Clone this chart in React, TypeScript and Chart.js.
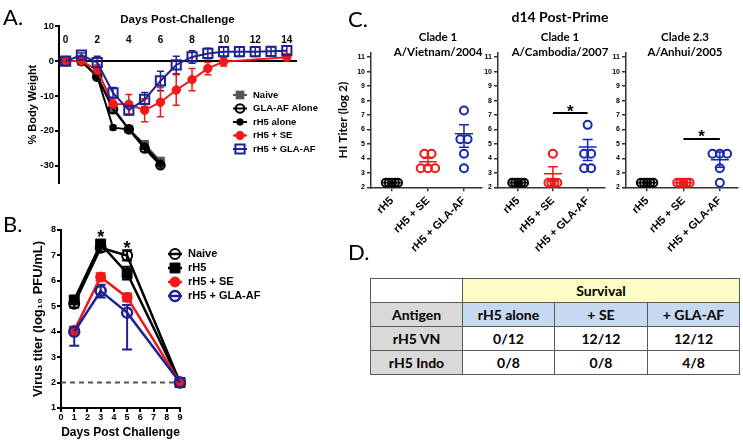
import React, { useEffect, useRef } from "react";
import { Chart, registerables } from "chart.js";
import { drawPoint } from "chart.js/helpers";

Chart.register(...registerables);

const ARIAL = "'Liberation Sans', Arial, sans-serif";
const CAL = "Lato, 'Open Sans', sans-serif";
const RED = "#f01818";
const NAVY = "#1f2290";
const BLUE = "#1428b4";
const GRAY = "#555555";
const CLEAR = "rgba(0,0,0,0)";

// ---------- Panel A: % body weight ----------
const daysA = [0, 1, 2, 3, 4, 5, 6, 7, 8, 9, 10, 11, 12, 13, 14];
const xTicksA = [0, 2, 4, 6, 8, 10, 12, 14];
const yTicksA = [-30, -20, -10, 0, 10];
const naiveA = [0, 0, -4.2, -13.3, -19.5, -23.9, -28.7, null, null, null, null, null, null, null, null];
const naiveErrA = [0.5, 0.5, 1, 1, 0.8, 1, 0.8, null, null, null, null, null, null, null, null];
const glaAloneA = [0, 0, -4.5, -13.8, -19.6, -25.1, -29.9, null, null, null, null, null, null, null, null];
const glaAloneErrA = [0.5, 0.5, 1, 1, 0.8, 1, 0.8, null, null, null, null, null, null, null, null];
const rh5AloneA = [0, 0, -4.4, -19.1, -19.6, -24.4, -29.3, null, null, null, null, null, null, null, null];
const rh5AloneErrA = [0.5, 0.5, 0.8, 0.6, 0.8, 1, 0.8, null, null, null, null, null, null, null, null];
const seA = [0, 0, -2.6, -12.3, -12.4, -14.1, -11.8, -8.3, -5.3, -2.1, -0.2, null, null, null, 1.1];
const seErrA = [0.5, 0.5, 1.5, 1.5, 2.8, 3.3, 4.2, 4.4, 3.2, 1.8, 1.2, null, null, null, 1.0];
const glaA = [0, 1.7, -0.4, -9.1, -14.1, -11.0, -5.7, -1.1, 1.2, 2.2, 2.7, 2.7, 2.7, 2.8, 3.0];
const glaErrA = [0.5, 0.6, 1.8, 1.5, 1.3, 2.0, 2.8, 2.5, 1.8, 1.5, 1.4, 1.4, 1.4, 1.3, 1.4];

// ---------- Panel B: virus titer ----------
const daysB = [1, 3, 5, 9];
const xTicksB = [0, 1, 2, 3, 4, 5, 6, 7, 8, 9];
const yTicksB = [1, 2, 3, 4, 5, 6, 7, 8];
const naiveB = [5.1, 7.3, 7.0, 2];
const naiveUpB = [0.1, 0.15, 0.2, 0];
const naiveDnB = [0.15, 0.15, 0.2, 0];
const rh5B = [5.25, 7.45, 6.3, 2];
const rh5UpB = [0.1, 0.1, 0.25, 0];
const rh5DnB = [0.1, 0.1, 0.25, 0];
const seB = [4.05, 6.15, 5.35, 2];
const seUpB = [0.1, 0.15, 0.15, 0];
const seDnB = [0.1, 0.15, 0.15, 0];
const glaB = [4.0, 5.6, 4.75, 2];
const glaUpB = [0.2, 0.25, 0.3, 0];
const glaDnB = [0.55, 0.25, 1.45, 0];
const limitB = 2;
const sigDaysB = [3, 5];
const sigYB = [7.85, 7.4];

// ---------- Panel C: HI titers ----------
const categoriesC = ["rH5", "rH5 + SE", "rH5 + GLA-AF"];
const yTicksC = [2, 3, 4, 5, 6, 7, 8, 9, 10, 11];
const strainsC = [
  ["Clade 1", "A/Vietnam/2004"],
  ["Clade 1", "A/Cambodia/2007"],
  ["Clade 2.3", "A/Anhui/2005"],
];
const vnRh5 = [2.32, 2.32, 2.32, 2.32, 2.32];
const vnSe = [4.32, 4.32, 3.32, 3.32, 3.32];
const vnGla = [7.32, 5.32, 5.32, 4.32, 3.32];
const cbRh5 = [2.32, 2.32, 2.32, 2.32, 2.32];
const cbSe = [4.32, 2.32, 2.32, 2.32, 2.32];
const cbGla = [6.32, 4.32, 4.32, 3.32, 3.32];
const ahRh5 = [2.32, 2.32, 2.32, 2.32, 2.32];
const ahSe = [2.32, 2.32, 2.32, 2.32, 2.32];
const ahGla = [4.32, 4.32, 4.32, 3.32, 2.32];
const meanC = [[2.32, 3.76, 5.7], [2.32, 2.93, 4.78], [2.32, 2.32, 3.9]];
const semUpC = [[0, 0.25, 0.63], [0, 0.5, 0.52], [0, 0, 0.54]];
const semDnC = [[0, 0.25, 0.93], [0, 0.5, 0.92], [0, 0, 0.51]];
const sigC = [null, { from: 1, to: 2, y: 7.14, star: 7.5 }, { from: 1, to: 2, y: 5.35, star: 5.72 }];

// ---------- Panel D: survival table ----------
const survivalGroups = ["rH5 alone", "+ SE", "+ GLA-AF"];
const antigensD = ["rH5 VN", "rH5 Indo"];
const survivalD = [
  ["0/12", "12/12", "12/12"],
  ["0/8", "0/8", "4/8"],
];

// ---------- plugins ----------
function errorBars(cap: number, lw: number) {
  return {
    id: "errorBars",
    beforeDatasetsDraw(chart: any) {
      const { ctx } = chart;
      const x = chart.scales.x, y = chart.scales.y;
      ctx.save();
      chart.data.datasets.forEach((ds: any) => {
        if (!ds.errUp) return;
        ctx.strokeStyle = ds.borderColor;
        ctx.lineWidth = lw;
        ds.data.forEach((p: any, i: number) => {
          const u = ds.errUp[i] || 0, d = ds.errDown[i] || 0;
          if (!u && !d) return;
          const px = x.getPixelForValue(p.x);
          const yt = y.getPixelForValue(p.y + u), yb = y.getPixelForValue(p.y - d);
          ctx.beginPath();
          ctx.moveTo(px, yt);
          ctx.lineTo(px, yb);
          if (u) { ctx.moveTo(px - cap, yt); ctx.lineTo(px + cap, yt); }
          if (d) { ctx.moveTo(px - cap, yb); ctx.lineTo(px + cap, yb); }
          ctx.stroke();
        });
      });
      ctx.restore();
    },
  };
}

type Item = { text: string; color: string; style: string; radius: number; fill: string; bw: number };

function legendPlugin(items: Item[], x: number, y0: number, dy: number, size: number, half: number, lw: number) {
  return {
    id: "customLegend",
    afterDraw(chart: any) {
      const ctx = chart.ctx;
      ctx.save();
      items.forEach((it, i) => {
        const y = y0 + i * dy;
        ctx.strokeStyle = it.color;
        ctx.lineWidth = lw;
        ctx.beginPath();
        ctx.moveTo(x - half, y);
        ctx.lineTo(x + half, y);
        ctx.stroke();
        ctx.fillStyle = it.fill;
        ctx.strokeStyle = it.color;
        ctx.lineWidth = it.bw;
        drawPoint(ctx, { pointStyle: it.style, radius: it.radius, borderWidth: it.bw, rotation: 0 } as any, x, y);
        ctx.fillStyle = "#000";
        ctx.font = `bold ${size}px ${ARIAL}`;
        ctx.textBaseline = "middle";
        ctx.textAlign = "left";
        ctx.fillText(it.text, x + half + 6, y);
      });
      ctx.restore();
    },
  };
}

function starsB() {
  return {
    id: "starsB",
    afterDatasetsDraw(chart: any) {
      const { ctx } = chart;
      ctx.save();
      ctx.fillStyle = "#000";
      ctx.font = `bold 18px ${ARIAL}`;
      ctx.textAlign = "center";
      ctx.textBaseline = "middle";
      sigDaysB.forEach((d, i) => {
        ctx.fillText("*", chart.scales.x.getPixelForValue(d), chart.scales.y.getPixelForValue(sigYB[i]) + 4);
      });
      ctx.restore();
    },
  };
}

function meanSemPlugin(k: number) {
  return {
    id: "meanSem",
    afterDatasetsDraw(chart: any) {
      const { ctx } = chart;
      const x = chart.scales.x, y = chart.scales.y;
      ctx.save();
      chart.data.datasets.forEach((ds: any, g: number) => {
        const cx = x.getPixelForValue(g);
        const m = y.getPixelForValue(meanC[k][g]);
        const t = y.getPixelForValue(meanC[k][g] + semUpC[k][g]);
        const b = y.getPixelForValue(meanC[k][g] - semDnC[k][g]);
        ctx.strokeStyle = ds.borderColor;
        ctx.lineWidth = 1.5;
        ctx.beginPath();
        ctx.moveTo(cx - 9, m); ctx.lineTo(cx + 9, m);
        if (semUpC[k][g] || semDnC[k][g]) {
          ctx.moveTo(cx, t); ctx.lineTo(cx, b);
          ctx.moveTo(cx - 5, t); ctx.lineTo(cx + 5, t);
          ctx.moveTo(cx - 5, b); ctx.lineTo(cx + 5, b);
        }
        ctx.stroke();
      });
      const s = sigC[k];
      if (s) {
        ctx.strokeStyle = "#000";
        ctx.lineWidth = 2;
        ctx.beginPath();
        ctx.moveTo(x.getPixelForValue(s.from), y.getPixelForValue(s.y));
        ctx.lineTo(x.getPixelForValue(s.to), y.getPixelForValue(s.y));
        ctx.stroke();
        ctx.fillStyle = "#000";
        ctx.font = `bold 17px ${ARIAL}`;
        ctx.textAlign = "center";
        ctx.textBaseline = "middle";
        ctx.fillText("*", x.getPixelForValue((s.from + s.to) / 2), y.getPixelForValue(s.star) + 4);
      }
      ctx.restore();
    },
  };
}

// ---------- helpers ----------
function pts(xs: number[], vals: (number | null)[], up: (number | null)[], dn: (number | null)[]) {
  const data: any[] = [], eu: number[] = [], ed: number[] = [];
  xs.forEach((d, i) => {
    const v = vals[i];
    if (v == null) return;
    data.push({ x: d, y: v });
    eu.push(up[i] || 0);
    ed.push(dn[i] || 0);
  });
  return { data, errUp: eu, errDown: ed };
}

function swarm(vals: number[]) {
  const counts = new Map<number, number>();
  const seen = new Map<number, number>();
  vals.forEach((v) => counts.set(v, (counts.get(v) || 0) + 1));
  return vals.map((v) => {
    const n = counts.get(v) as number;
    const k = seen.get(v) || 0;
    seen.set(v, k + 1);
    const sp = n >= 4 ? 0.085 : 0.2;
    return (k - (n - 1) / 2) * sp;
  });
}

const fixedTicks = (list: number[]) => (s: any) => {
  s.ticks = list.map((v) => ({ value: v }));
};

// ---------- configs ----------
function configA(): any {
  const series = (label: string, vals: any[], errs: any[], color: string, style: string, r: number, fill: string, bw: number) => ({
    label,
    ...pts(daysA, vals, errs, errs),
    borderColor: color,
    backgroundColor: fill,
    pointBackgroundColor: fill,
    pointBorderColor: color,
    pointStyle: style,
    pointRadius: r,
    pointBorderWidth: bw,
    borderWidth: 2,
    clip: false,
  });
  return {
    type: "line",
    data: {
      datasets: [
        series("rH5 + GLA-AF", glaA, glaErrA, NAVY, "rect", 6.5, CLEAR, 2),
        series("rH5 + SE", seA, seErrA, RED, "circle", 4.2, RED, 1),
        series("rH5 alone", rh5AloneA, rh5AloneErrA, "#000", "circle", 3.3, "#000", 1),
        series("GLA-AF Alone", glaAloneA, glaAloneErrA, "#000", "circle", 4.3, CLEAR, 2),
        series("Naive", naiveA, naiveErrA, GRAY, "rect", 5.5, GRAY, 1),
      ],
    },
    options: {
      responsive: false,
      animation: false,
      events: [],
      layout: { padding: { top: 12.5, right: 74, bottom: 17, left: 0 } },
      plugins: {
        legend: { display: false },
        tooltip: { enabled: false },
        title: {
          display: true,
          text: "Days Post-Challenge",
          fullSize: false,
          color: "#000",
          font: { family: ARIAL, size: 11.5, weight: "bold" },
          padding: { top: 0, bottom: 0 },
        },
      },
      scales: {
        x: {
          type: "linear",
          min: -0.42,
          max: 14.58,
          position: { y: 0 },
          afterBuildTicks: fixedTicks(xTicksA),
          grid: { display: true, drawOnChartArea: false, drawTicks: false },
          border: { display: true, color: "#000", width: 2 },
          ticks: { color: "#000", font: { family: ARIAL, size: 10, weight: "bold" }, padding: -27, maxRotation: 0, autoSkip: false },
        },
        y: {
          type: "linear",
          min: -35,
          max: 10,
          afterBuildTicks: fixedTicks(yTicksA),
          afterFit: (s: any) => { s.width = 59; },
          grid: { drawOnChartArea: false, drawTicks: true, tickLength: 4, color: "#000", lineWidth: 2 },
          border: { color: "#000", width: 2 },
          ticks: { color: "#000", font: { family: ARIAL, size: 9.5, weight: "bold" }, padding: 1 },
          title: {
            display: true,
            text: "% Body Weight",
            color: "#000",
            font: { family: ARIAL, size: 11, weight: "bold" },
            padding: { top: 26.4, bottom: 0 },
          },
        },
      },
    },
    plugins: [
      errorBars(3.5, 1.5),
      legendPlugin(
        [
          { text: "Naive", color: GRAY, style: "rect", radius: 5.5, fill: GRAY, bw: 1 },
          { text: "GLA-AF Alone", color: "#000", style: "circle", radius: 4.3, fill: CLEAR, bw: 2 },
          { text: "rH5 alone", color: "#000", style: "circle", radius: 3.3, fill: "#000", bw: 1 },
          { text: "rH5 + SE", color: RED, style: "circle", radius: 4.2, fill: RED, bw: 1 },
          { text: "rH5 + GLA-AF", color: NAVY, style: "rect", radius: 6.5, fill: CLEAR, bw: 2 },
        ],
        240, 95, 13.5, 9.5, 7, 2
      ),
    ],
  };
}

function configB(): any {
  const series = (label: string, vals: number[], up: number[], dn: number[], color: string, style: string, r: number, fill: string, bw: number) => ({
    label,
    ...pts(daysB, vals, up, dn),
    borderColor: color,
    backgroundColor: fill,
    pointBackgroundColor: fill,
    pointBorderColor: color,
    pointStyle: style,
    pointRadius: r,
    pointBorderWidth: bw,
    borderWidth: 2.5,
    clip: false,
  });
  return {
    type: "line",
    data: {
      datasets: [
        series("rH5 + GLA-AF", glaB, glaUpB, glaDnB, NAVY, "circle", 5, CLEAR, 2.5),
        series("rH5 + SE", seB, seUpB, seDnB, RED, "circle", 5, RED, 1),
        series("rH5", rh5B, rh5UpB, rh5DnB, "#000", "rect", 7, "#000", 1),
        series("Naive", naiveB, naiveUpB, naiveDnB, "#000", "circle", 5, CLEAR, 2),
        {
          label: "limit",
          data: [{ x: xTicksB[0], y: limitB }, { x: xTicksB[xTicksB.length - 1], y: limitB }],
          borderColor: "#555",
          borderDash: [5, 4],
          borderWidth: 2,
          pointRadius: 0,
          clip: false,
        },
      ],
    },
    options: {
      responsive: false,
      animation: false,
      events: [],
      layout: { padding: { top: 15, right: 190, bottom: 0, left: 0 } },
      plugins: { legend: { display: false }, tooltip: { enabled: false } },
      scales: {
        x: {
          type: "linear",
          min: 0,
          max: 9,
          position: "bottom",
          afterBuildTicks: fixedTicks(xTicksB),
          afterFit: (s: any) => { s.height = 35; },
          grid: { drawOnChartArea: false, tickLength: 4, color: "#000", lineWidth: 2 },
          border: { color: "#000", width: 2 },
          ticks: { color: "#000", font: { family: ARIAL, size: 9, weight: "bold" }, padding: 0, maxRotation: 0, autoSkip: false },
          title: {
            display: true,
            text: "Days Post Challenge",
            color: "#000",
            font: { family: ARIAL, size: 12, weight: "bold" },
            padding: { top: 0, bottom: 2.8 },
          },
        },
        y: {
          type: "linear",
          min: 1,
          max: 8,
          afterBuildTicks: fixedTicks(yTicksB),
          afterFit: (s: any) => { s.width = 61; },
          grid: { drawOnChartArea: false, tickLength: 4, color: "#000", lineWidth: 2 },
          border: { color: "#000", width: 2 },
          ticks: { color: "#000", font: { family: ARIAL, size: 9, weight: "bold" }, padding: 1 },
          title: {
            display: true,
            text: "Virus titer (log\u2081\u2080 PFU/mL)",
            color: "#000",
            font: { family: ARIAL, size: 13, weight: "bold" },
            padding: { top: 30.2, bottom: 0 },
          },
        },
      },
    },
    plugins: [
      errorBars(5, 2),
      starsB(),
      legendPlugin(
        [
          { text: "Naive", color: "#000", style: "circle", radius: 5, fill: CLEAR, bw: 2 },
          { text: "rH5", color: "#000", style: "rect", radius: 7, fill: "#000", bw: 1 },
          { text: "rH5 + SE", color: RED, style: "circle", radius: 5, fill: RED, bw: 1 },
          { text: "rH5 + GLA-AF", color: NAVY, style: "circle", radius: 5, fill: CLEAR, bw: 2.5 },
        ],
        175, 39, 14, 11, 7, 2.5
      ),
    ],
  };
}

const groupsC = [
  [vnRh5, vnSe, vnGla],
  [cbRh5, cbSe, cbGla],
  [ahRh5, ahSe, ahGla],
];
const layoutC = [
  { yWidth: 41, rWidth: 64, yTitle: true },
  { yWidth: 26, rWidth: 43, yTitle: false },
  { yWidth: 21, rWidth: 27, yTitle: false },
];

function configC(k: number): any {
  const colors = ["#000", RED, BLUE];
  const L = layoutC[k];
  return {
    type: "scatter",
    data: {
      datasets: groupsC[k].map((vals, g) => {
        const offs = swarm(vals);
        return {
          label: categoriesC[g],
          data: vals.map((v, i) => ({ x: g + offs[i], y: v })),
          pointStyle: "circle",
          pointRadius: 4,
          pointBorderWidth: 2,
          pointBorderColor: colors[g],
          pointBackgroundColor: CLEAR,
          borderColor: colors[g],
          showLine: false,
          clip: false,
        };
      }),
    },
    options: {
      responsive: false,
      animation: false,
      events: [],
      layout: { padding: { top: k === 1 ? 0 : 25.4, right: 0, bottom: 0, left: 0 } },
      plugins: {
        legend: { display: false },
        tooltip: { enabled: false },
        title: {
          display: k === 1,
          text: "d14 Post-Prime",
          color: "#000",
          font: { family: CAL, size: 14, weight: "bold" },
          padding: { top: 8.6, bottom: 0 },
        },
        subtitle: {
          display: true,
          text: strainsC[k],
          color: "#000",
          font: { family: CAL, size: 11.5, weight: "bold", lineHeight: 1.3 },
          padding: { top: 4.1, bottom: -6.5 },
        },
      },
      scales: {
        x: {
          type: "linear",
          min: -0.58,
          max: 2.5,
          afterBuildTicks: fixedTicks([0, 1, 2]),
          afterFit: (s: any) => { s.height = 72.7; },
          grid: { drawOnChartArea: false, tickLength: 4, color: "#333", lineWidth: 1.5 },
          border: { color: "#333", width: 1.5 },
          ticks: {
            color: "#000",
            font: { family: ARIAL, size: 11, weight: "bold" },
            padding: 3,
            minRotation: 45,
            maxRotation: 45,
            autoSkip: false,
            callback: (v: any) => categoriesC[Math.round(v)],
          },
        },
        y: {
          type: "linear",
          min: 2,
          max: 11.3,
          afterBuildTicks: fixedTicks(yTicksC),
          afterFit: (s: any) => { s.width = L.yWidth; },
          grid: { drawOnChartArea: false, tickLength: 4, color: "#333", lineWidth: 1.5 },
          border: { color: "#333", width: 1.5 },
          ticks: { color: "#000", font: { family: ARIAL, size: 7, weight: "bold" }, padding: 2 },
          title: {
            display: L.yTitle,
            text: "HI Titer (log 2)",
            color: "#000",
            font: { family: CAL, size: 12, weight: "bold" },
            padding: { top: 5.8, bottom: 0 },
          },
        },
        yr: {
          type: "linear",
          position: "right",
          display: true,
          afterFit: (s: any) => { s.width = L.rWidth; },
          grid: { display: false, drawTicks: false },
          border: { display: false },
          ticks: { display: false },
        },
      },
    },
    plugins: [meanSemPlugin(k)],
  };
}

// ---------- components ----------
function ChartBox({ left, top, w, h, make }: any) {
  const ref = useRef<HTMLCanvasElement>(null);
  useEffect(() => {
    const chart = new Chart(ref.current as HTMLCanvasElement, make());
    return () => chart.destroy();
  }, []);
  return (
    <canvas
      ref={ref}
      width={w}
      height={h}
      style={{ position: "absolute", left, top, width: w, height: h }}
    />
  );
}

const panelLabel = (left: number, top: number): React.CSSProperties => ({
  position: "absolute",
  left,
  top,
  fontFamily: CAL,
  fontSize: 22,
  lineHeight: "22px",
  color: "#000",
});

const cell = (bg: string): React.CSSProperties => ({
  background: bg,
  border: "1.5px solid #5a5a5a",
  padding: 0,
  height: 22,
  textAlign: "center",
  verticalAlign: "middle",
});

export default function App() {
  return (
    <div
      style={{
        position: "absolute",
        left: 0,
        top: 0,
        width: 743,
        height: 443,
        overflow: "hidden",
        background: "#fff",
      }}
    >
      <ChartBox left={0} top={0} w={370} h={200} make={configA} />
      <ChartBox left={0} top={215} w={370} h={228} make={configB} />
      <ChartBox left={330} top={0} w={216} h={260} make={() => configC(0)} />
      <ChartBox left={472} top={0} w={176} h={260} make={() => configC(1)} />
      <ChartBox left={605} top={0} w={160} h={260} make={() => configC(2)} />

      <div style={panelLabel(3, 6)}>A.</div>
      <div style={panelLabel(3, 213)}>B.</div>
      <div style={panelLabel(348, 8)}>C.</div>
      <div style={panelLabel(348, 241)}>D.</div>

      <table
        style={{
          position: "absolute",
          left: 370,
          top: 278,
          width: 369,
          borderCollapse: "collapse",
          tableLayout: "fixed",
          fontFamily: CAL,
          fontWeight: 700,
          fontSize: 14,
          color: "#000",
        }}
      >
        <colgroup>
          <col style={{ width: 92 }} />
          <col style={{ width: 92 }} />
          <col style={{ width: 93 }} />
          <col style={{ width: 92 }} />
        </colgroup>
        <tbody>
          <tr style={{ height: 24 }}>
            <td style={cell("#ffffff")}></td>
            <td colSpan={3} style={cell("#fdfbc6")}>Survival</td>
          </tr>
          <tr style={{ height: 24 }}>
            <td style={cell("#d9d9d9")}>Antigen</td>
            {survivalGroups.map((g) => (
              <td key={g} style={cell("#c6d9f1")}>{g}</td>
            ))}
          </tr>
          {antigensD.map((a, i) => (
            <tr key={a} style={{ height: 24 }}>
              <td style={cell("#d9d9d9")}>{a}</td>
              {survivalD[i].map((v, j) => (
                <td key={j} style={cell("#ffffff")}>{v}</td>
              ))}
            </tr>
          ))}
        </tbody>
      </table>
    </div>
  );
}
